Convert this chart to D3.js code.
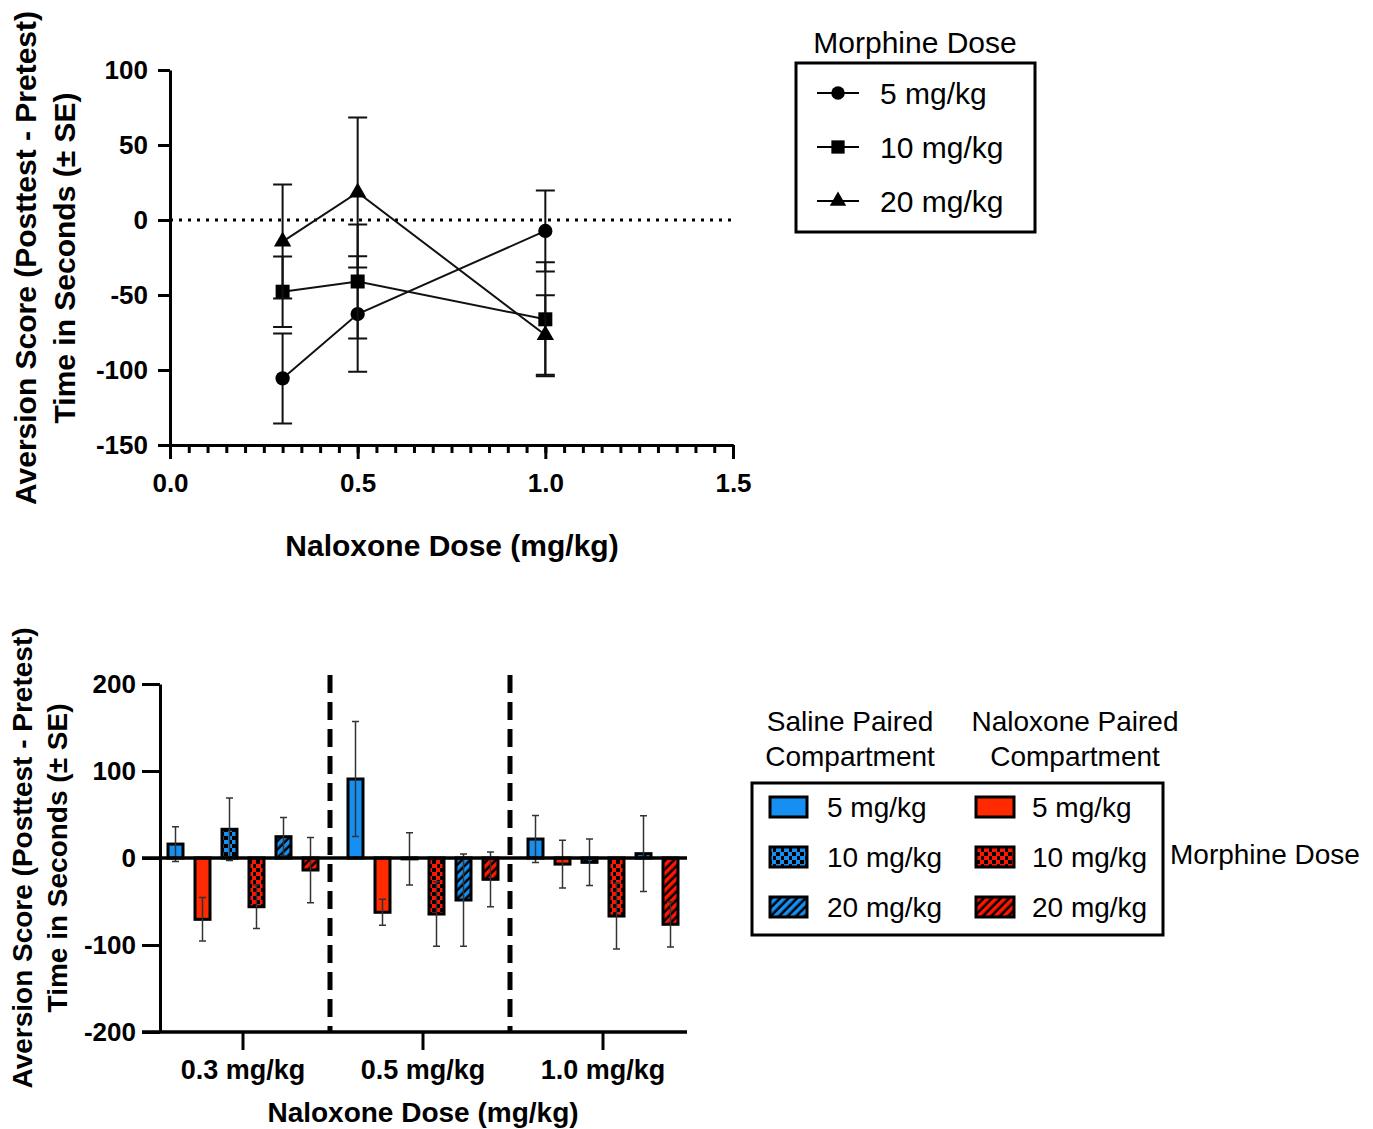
<!DOCTYPE html>
<html>
<head>
<meta charset="utf-8">
<script src="https://cdn.jsdelivr.net/npm/d3@7"></script>
<style>
  body { margin: 0; background: #fff; }
  svg { font-family: "Liberation Sans", Arial, Helvetica, sans-serif; }
  .axis path, .axis line { stroke: #000; stroke-width: 3; }
  .axis text { font-size: 26px; font-weight: bold; fill: #000; font-family: "Liberation Sans", Arial, sans-serif; }
</style>
</head>
<body>
<svg width="1373" height="1129"></svg>
<script>
// ---- top chart data ----
var naloxoneDoses = [0.3, 0.5, 1.0];
var morphineDoses = ["5 mg/kg", "10 mg/kg", "20 mg/kg"];
var mean5 = [-105.6, -62.7, -7.3],  se5 = [30, 38.5, 27];
var mean10 = [-47.8, -41, -66.2],   se10 = [23.5, 38, 38];
var mean20 = [-14.4, 18.4, -76.7],  se20 = [38, 50, 26.5];

// ---- bottom chart data ----
var groups = ["0.3 mg/kg", "0.5 mg/kg", "1.0 mg/kg"];
var barKeys = ["sal5", "nal5", "sal10", "nal10", "sal20", "nal20"];
var sal5 = [16, 90.8, 21.8],      sal5se = [20, 66, 27];
var nal5 = [-70.5, -62.4, -7],    nal5se = [25, 15, 27.5];
var sal10 = [33, -1, -5],         sal10se = [36, 30, 26.7];
var nal10 = [-56, -64.4, -66.7],  nal10se = [25, 37, 38];
var sal20 = [24.5, -48.3, 5],     sal20se = [22, 53, 43.5];
var nal20 = [-13.8, -24.5, -76.2], nal20se = [37.5, 31.5, 26];

var blue = "#1590f2", red = "#ff2a00";
var plain = function(d) { return String(d); };

var svg = d3.select("svg");

// patterns
var defs = svg.append("defs");
[["blue", blue], ["red", "#ff1500"]].forEach(function(c) {
  var ck = defs.append("pattern").attr("id", "check-" + c[0])
      .attr("patternUnits", "userSpaceOnUse").attr("width", 8).attr("height", 8);
  ck.append("rect").attr("width", 8).attr("height", 8).attr("fill", "#000");
  ck.append("rect").attr("width", 5).attr("height", 4).attr("fill", c[1]);
  ck.append("rect").attr("x", 4).attr("y", 4).attr("width", 5).attr("height", 4).attr("fill", c[1]);
  var ht = defs.append("pattern").attr("id", "hatch-" + c[0])
      .attr("patternUnits", "userSpaceOnUse").attr("width", 6).attr("height", 6)
      .attr("patternTransform", "rotate(45)");
  ht.append("rect").attr("width", 6).attr("height", 6).attr("fill", "#000");
  ht.append("rect").attr("width", 3.5).attr("height", 6).attr("fill", c[1]);
});
var fills = {
  sal5: blue, nal5: red,
  sal10: "url(#check-blue)", nal10: "url(#check-red)",
  sal20: "url(#hatch-blue)", nal20: "url(#hatch-red)"
};

// ================= TOP CHART =================
var x1 = d3.scaleLinear().domain([0, 1.5]).range([170, 733]);
var y1 = d3.scaleLinear().domain([-150, 100]).range([445, 70]);
var topG = svg.append("g");

topG.append("g").attr("class", "axis")
    .attr("transform", "translate(170,0)")
    .call(d3.axisLeft(y1).tickValues([-150, -100, -50, 0, 50, 100]).tickSize(12).tickPadding(10)
      .tickFormat(plain).tickSizeOuter(0));

topG.append("g").attr("class", "axis")
    .attr("transform", "translate(0,445)")
    .call(d3.axisBottom(x1).tickValues(d3.range(0, 1.501, 0.05)).tickSize(8).tickFormat("").tickSizeOuter(0))
    .selectAll("line").attr("stroke-width", 2.5);

topG.append("g").attr("class", "axis")
    .attr("transform", "translate(0,445)")
    .call(d3.axisBottom(x1).tickValues([0, 0.5, 1.0, 1.5]).tickSize(14).tickPadding(15).tickFormat(d3.format(".1f")).tickSizeOuter(0));

topG.append("line")
    .attr("x1", x1(0)).attr("x2", x1(1.5))
    .attr("y1", y1(0)).attr("y2", y1(0))
    .attr("stroke", "#000").attr("stroke-width", 3).attr("stroke-dasharray", "3 6");

topG.append("text")
    .attr("transform", "translate(25,258) rotate(-90)")
    .attr("text-anchor", "middle").attr("dominant-baseline", "central")
    .style("font-size", "30px").style("font-weight", "bold")
    .text("Aversion Score (Posttest - Pretest)");
topG.append("text")
    .attr("transform", "translate(64,258) rotate(-90)")
    .attr("text-anchor", "middle").attr("dominant-baseline", "central")
    .style("font-size", "30px").style("font-weight", "bold")
    .text("Time in Seconds (\u00b1 SE)");
topG.append("text")
    .attr("x", 452).attr("y", 545)
    .attr("text-anchor", "middle").attr("dominant-baseline", "central")
    .style("font-size", "30px").style("font-weight", "bold")
    .text("Naloxone Dose (mg/kg)");

var series = [
  {name: morphineDoses[0], mean: mean5, se: se5, sym: d3.symbolCircle, size: 160},
  {name: morphineDoses[1], mean: mean10, se: se10, sym: d3.symbolSquare, size: 196},
  {name: morphineDoses[2], mean: mean20, se: se20, sym: d3.symbolTriangle, size: 130}
];

var line = d3.line()
    .x(function(d) { return x1(d.x); })
    .y(function(d) { return y1(d.y); });

series.forEach(function(s) {
  var pts = naloxoneDoses.map(function(n, i) { return {x: n, y: s.mean[i], se: s.se[i]}; });
  var g = topG.append("g");
  g.selectAll(".eb").data(pts).enter().append("path")
      .attr("fill", "none").attr("stroke", "#111").attr("stroke-width", 2)
      .attr("d", function(d) {
        var cx = x1(d.x), a = y1(d.y + d.se), b = y1(d.y - d.se);
        return "M" + (cx - 9.5) + "," + a + "H" + (cx + 9.5) +
               "M" + cx + "," + a + "V" + b +
               "M" + (cx - 9.5) + "," + b + "H" + (cx + 9.5);
      });
  g.append("path").datum(pts)
      .attr("fill", "none").attr("stroke", "#111").attr("stroke-width", 2)
      .attr("d", line);
  g.selectAll(".pt").data(pts).enter().append("path")
      .attr("transform", function(d) { return "translate(" + x1(d.x) + "," + y1(d.y) + ")"; })
      .attr("d", d3.symbol().type(s.sym).size(s.size))
      .attr("fill", "#000");
});

// top legend
var lg1 = svg.append("g");
lg1.append("text").attr("x", 915).attr("y", 42)
    .attr("text-anchor", "middle").attr("dominant-baseline", "central")
    .style("font-size", "30px").text("Morphine Dose");
lg1.append("rect").attr("x", 796).attr("y", 63).attr("width", 239).attr("height", 169)
    .attr("fill", "none").attr("stroke", "#000").attr("stroke-width", 3);
series.forEach(function(s, i) {
  var yy = 93 + i * 54;
  lg1.append("line").attr("x1", 817).attr("x2", 859).attr("y1", yy).attr("y2", yy)
      .attr("stroke", "#000").attr("stroke-width", 2);
  lg1.append("path").attr("transform", "translate(838," + yy + ")")
      .attr("d", d3.symbol().type(s.sym).size(s.size * 0.9)).attr("fill", "#000");
  lg1.append("text").attr("x", 880).attr("y", yy)
      .attr("dominant-baseline", "central").style("font-size", "30px").text(s.name);
});

// ================= BOTTOM CHART =================
var x2 = d3.scaleBand().domain(groups).range([153, 693]);
var xi = d3.scaleBand().domain(barKeys).range([-81, 81]);
var y2 = d3.scaleLinear().domain([-200, 200]).range([1032, 684]);
var bot = svg.append("g");

var barData = {
  sal5: [sal5, sal5se], nal5: [nal5, nal5se],
  sal10: [sal10, sal10se], nal10: [nal10, nal10se],
  sal20: [sal20, sal20se], nal20: [nal20, nal20se]
};
var bars = [];
groups.forEach(function(g, gi) {
  barKeys.forEach(function(k) {
    bars.push({group: g, key: k, v: barData[k][0][gi], se: barData[k][1][gi]});
  });
});
function bx(d) { return x2(d.group) + x2.bandwidth() / 2 + xi(d.key) + xi.bandwidth() / 2; }

bot.selectAll(".bar").data(bars).enter().append("rect")
    .attr("x", function(d) { return bx(d) - 7.5; })
    .attr("width", 15)
    .attr("y", function(d) { return Math.min(y2(0), y2(d.v)); })
    .attr("height", function(d) { return Math.abs(y2(d.v) - y2(0)); })
    .attr("fill", function(d) { return fills[d.key]; })
    .attr("stroke", "#000").attr("stroke-width", 3);

bot.selectAll(".eb").data(bars).enter().append("path")
    .attr("fill", "none").attr("stroke", "#333").attr("stroke-width", 1.5)
    .attr("d", function(d) {
      var cx = bx(d), a = y2(d.v + d.se), b = y2(d.v - d.se);
      return "M" + (cx - 3.5) + "," + a + "H" + (cx + 3.5) +
             "M" + cx + "," + a + "V" + b +
             "M" + (cx - 3.5) + "," + b + "H" + (cx + 3.5);
    });

// separators
groups.slice(1).forEach(function(g) {
  bot.append("line")
      .attr("x1", x2(g) - 3).attr("x2", x2(g) - 3)
      .attr("y1", 675).attr("y2", y2(-200))
      .attr("stroke", "#000").attr("stroke-width", 5).attr("stroke-dasharray", "18 9");
});

bot.append("g").attr("class", "axis")
    .attr("transform", "translate(160,0)")
    .call(d3.axisLeft(y2).tickValues([-200, -100, 0, 100, 200]).tickSize(18).tickPadding(6)
      .tickFormat(plain).tickSizeOuter(0));

// zero line
bot.append("line").attr("x1", 142).attr("x2", 687).attr("y1", y2(0)).attr("y2", y2(0))
    .attr("stroke", "#000").attr("stroke-width", 3.5);

var xAx = bot.append("g").attr("class", "axis")
    .attr("transform", "translate(0,1032)")
    .call(d3.axisBottom(x2).tickSize(18).tickPadding(10).tickSizeOuter(0));
xAx.select(".domain").remove();
xAx.selectAll(".tick text").style("font-size", "27px");
bot.append("line").attr("x1", 142).attr("x2", 687).attr("y1", 1032).attr("y2", 1032)
    .attr("stroke", "#000").attr("stroke-width", 3.5);

bot.append("text")
    .attr("transform", "translate(22,858) rotate(-90)")
    .attr("text-anchor", "middle").attr("dominant-baseline", "central")
    .style("font-size", "28px").style("font-weight", "bold")
    .text("Aversion Score (Posttest - Pretest)");
bot.append("text")
    .attr("transform", "translate(57,858) rotate(-90)")
    .attr("text-anchor", "middle").attr("dominant-baseline", "central")
    .style("font-size", "28px").style("font-weight", "bold")
    .text("Time in Seconds (\u00b1 SE)");
bot.append("text")
    .attr("x", 423).attr("y", 1112)
    .attr("text-anchor", "middle").attr("dominant-baseline", "central")
    .style("font-size", "28px").style("font-weight", "bold")
    .text("Naloxone Dose (mg/kg)");

// bottom legend
var lg2 = svg.append("g");
[["Saline Paired", "Compartment", 850], ["Naloxone Paired", "Compartment", 1075]].forEach(function(h) {
  lg2.append("text").attr("x", h[2]).attr("y", 721).attr("text-anchor", "middle")
      .attr("dominant-baseline", "central").style("font-size", "28px").text(h[0]);
  lg2.append("text").attr("x", h[2]).attr("y", 756).attr("text-anchor", "middle")
      .attr("dominant-baseline", "central").style("font-size", "28px").text(h[1]);
});
lg2.append("rect").attr("x", 752).attr("y", 783).attr("width", 411).attr("height", 152)
    .attr("fill", "none").attr("stroke", "#000").attr("stroke-width", 3);
morphineDoses.forEach(function(m, i) {
  var yy = 807 + i * 50;
  lg2.append("rect").attr("x", 770).attr("y", yy - 10).attr("width", 37).attr("height", 20)
      .attr("fill", fills[barKeys[i * 2]]).attr("stroke", "#000").attr("stroke-width", 3);
  lg2.append("text").attr("x", 827).attr("y", yy).attr("dominant-baseline", "central")
      .style("font-size", "28px").text(m);
  lg2.append("rect").attr("x", 976).attr("y", yy - 10).attr("width", 38).attr("height", 20)
      .attr("fill", fills[barKeys[i * 2 + 1]]).attr("stroke", "#000").attr("stroke-width", 3);
  lg2.append("text").attr("x", 1032).attr("y", yy).attr("dominant-baseline", "central")
      .style("font-size", "28px").text(m);
});
lg2.append("text").attr("x", 1170).attr("y", 854).attr("dominant-baseline", "central")
    .style("font-size", "28px").text("Morphine Dose");
</script>
</body>
</html>
